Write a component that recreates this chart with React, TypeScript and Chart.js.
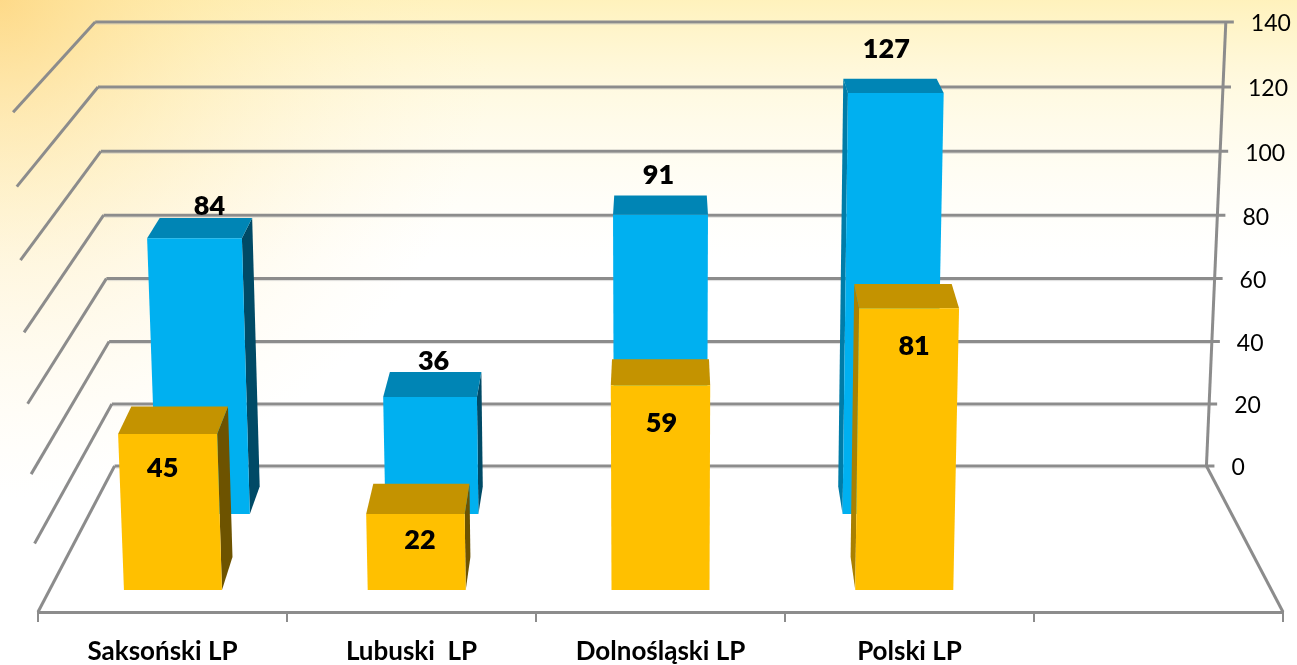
import React, { useEffect, useRef } from "react";
import { Chart, BarController, BarElement, CategoryScale, LinearScale } from "chart.js";

const categories = ["Saksoński LP", "Lubuski  LP", "Dolnośląski LP", "Polski LP", ""];
const rearValues = [84, 36, 91, 127];
const frontValues = [45, 22, 59, 81];
const axisMax = 140;
const axisStep = 20;

const FONT = "Lato, Carlito, sans-serif";
const GRID = "#8c8c8c";

// Hand placement of the value labels, relative to the top front edge of each bar.
const rearLabelOffsets = [[15, -32], [3.5, -36], [-2, -39], [-9.5, -44]];
const frontLabelOffsets = [[-5, 34], [4.5, 26], [1, 38], [5, 38]];

const LEAN = 0.00007; // tops of the bars flare away from the centre of view
const BACK = 0.976; // narrowing of a bar's rear face

class DepthCategoryScale extends CategoryScale {
  static id = "depthCategory";
  static defaults = {};
  getPixelForValue(value: any) {
    const p = super.getPixelForValue(value);
    const c = (this.left + this.right) / 2;
    return c + (p - c) * (this.options as any).depth;
  }
}

class PerspectiveScale extends LinearScale {
  static id = "perspective";
  static defaults = {};
  getPixelForValue(value: any) {
    const o = this.options as any;
    const v = +value;
    return this.bottom - o.floor - (o.rise * v) / (1 - o.curve * v);
  }
}

Chart.register(BarController, BarElement, CategoryScale, LinearScale, DepthCategoryScale, PerspectiveScale);

const paintBackground = (chart: any) => {
  const { ctx, width, height } = chart;
  ctx.save();
  ctx.fillStyle = "#ffffff";
  ctx.fillRect(0, 0, width, height);
  const v = ctx.createLinearGradient(0, 0, 0, 260);
  v.addColorStop(0, "rgba(255,236,160,0.7)");
  v.addColorStop(0.35, "rgba(255,243,190,0.45)");
  v.addColorStop(1, "rgba(255,250,225,0)");
  ctx.fillStyle = v;
  ctx.fillRect(0, 0, width, height);
  const r = ctx.createRadialGradient(0, 0, 0, 0, 0, 500);
  r.addColorStop(0, "rgba(253,210,120,0.75)");
  r.addColorStop(0.4, "rgba(254,228,155,0.45)");
  r.addColorStop(1, "rgba(255,245,210,0)");
  ctx.fillStyle = r;
  ctx.fillRect(0, 0, width, height);
  ctx.restore();
};

const line = (ctx: any, x1: number, y1: number, x2: number, y2: number) => {
  ctx.beginPath();
  ctx.moveTo(x1, y1);
  ctx.lineTo(x2, y2);
  ctx.stroke();
};

const poly = (ctx: any, color: string, pts: number[][]) => {
  ctx.fillStyle = color;
  ctx.beginPath();
  pts.forEach(([x, y], i) => (i ? ctx.lineTo(x, y) : ctx.moveTo(x, y)));
  ctx.closePath();
  ctx.fill();
};

const boxPlugin = {
  id: "box3d",
  beforeDraw: paintBackground,
  beforeDatasetsDraw(chart: any) {
    const { ctx, chartArea, scales } = chart;
    const cx = (chartArea.left + chartArea.right) / 2;
    const half = (chartArea.right - chartArea.left) / 2;
    const wall = scales.yWall;
    const front = scales.yFront;
    const wallEdge = (side: number, y: number) =>
      cx + side * half * 0.877 * (1 + 0.00008 * (wall.getPixelForValue(0) - y));
    const frontEdge = (side: number, y: number) =>
      cx + side * half * (1 + 0.00008 * (front.getPixelForValue(0) - y));
    ctx.save();
    ctx.lineCap = "butt";
    wall.ticks.forEach((t: any) => {
      const y = wall.getPixelForValue(t.value);
      const fy = front.getPixelForValue(t.value);
      ctx.strokeStyle = GRID;
      ctx.lineWidth = 3;
      line(ctx, wallEdge(-1, y), y, frontEdge(-1, fy), fy);
      line(ctx, wallEdge(-1, y), y, wallEdge(1, y) + 8, y);
      ctx.strokeStyle = "rgba(190,190,190,0.5)";
      ctx.lineWidth = 1;
      line(ctx, wallEdge(-1, y) + 1, y + 2, wallEdge(1, y) + 1, y + 2);
    });
    ctx.strokeStyle = GRID;
    ctx.lineWidth = 3;
    const y0 = wall.getPixelForValue(0);
    const yTop = wall.getPixelForValue(axisMax);
    line(ctx, wallEdge(1, y0), y0, wallEdge(1, yTop), yTop);
    const f0 = front.getPixelForValue(0);
    line(ctx, wallEdge(1, y0), y0, frontEdge(1, f0), f0);
    ctx.restore();
  },
  beforeDatasetDraw(chart: any, args: any) {
    const { ctx, chartArea, scales } = chart;
    const ds = chart.data.datasets[args.index];
    const cx = (chartArea.left + chartArea.right) / 2;
    const backScale = scales[ds.backAxis];
    const backBase = backScale.getPixelForValue(0);
    args.meta.data.forEach((el: any, i: number) => {
      const v = ds.data[i];
      const { x, y, base, width } = el;
      const frontPt = (xb: number, py: number) => [cx + (xb - cx) * (1 + LEAN * (base - py)), py];
      const backPt = (xb: number, py: number) => [
        cx + (cx + (xb - cx) * BACK - cx) * (1 + LEAN * (backBase - py)),
        py,
      ];
      const L = x - width / 2;
      const R = x + width / 2;
      const by = backScale.getPixelForValue(v);
      const fl = frontPt(L, y);
      const fr = frontPt(R, y);
      const bl = backPt(L, by);
      const br = backPt(R, by);
      if (br[0] > fr[0] + 1) {
        poly(ctx, ds.sideRight, [fr, br, backPt(R, backBase), frontPt(R, base)]);
      }
      if (bl[0] < fl[0] - 1) {
        poly(ctx, ds.sideLeft, [fl, bl, backPt(L, backBase), frontPt(L, base)]);
      }
      poly(ctx, ds.topColor, [fl, fr, br, bl]);
      poly(ctx, ds.backgroundColor, [fl, fr, frontPt(R, base), frontPt(L, base)]);
    });
    return false;
  },
  afterDraw(chart: any) {
    const { ctx, chartArea, scales } = chart;
    const cx = (chartArea.left + chartArea.right) / 2;
    const half = (chartArea.right - chartArea.left) / 2;
    const wall = scales.yWall;
    ctx.save();
    ctx.fillStyle = "#000";
    ctx.textBaseline = "middle";
    ctx.textAlign = "left";
    ctx.font = `400 23px ${FONT}`;
    wall.ticks.forEach((t: any) => {
      const y = wall.getPixelForValue(t.value);
      const edge = cx + half * 0.877 * (1 + 0.00008 * (wall.getPixelForValue(0) - y));
      ctx.fillText(String(t.label), edge + 25, y + 2);
    });
    ctx.textAlign = "center";
    ctx.font = `800 27px ${FONT}`;
    chart.data.datasets.forEach((ds: any, d: number) => {
      const meta = chart.getDatasetMeta(d);
      meta.data.forEach((el: any, i: number) => {
        const [ox, oy] = ds.labelOffsets[i];
        const topX = cx + (el.x - cx) * (1 + LEAN * (el.base - el.y));
        ctx.fillText(String(ds.data[i]), topX + ox, el.y + oy);
      });
    });
    ctx.restore();
  },
};

const hiddenY = (floor: number, rise: number, curve: number) => ({
  type: "perspective",
  display: false,
  min: 0,
  max: axisMax,
  ticks: { stepSize: axisStep },
  floor,
  rise,
  curve,
});

const hiddenX = (depth: number) => ({
  type: "depthCategory",
  display: false,
  offset: true,
  depth,
});

export default function App() {
  const ref = useRef<HTMLCanvasElement>(null);
  useEffect(() => {
    const chart = new Chart(ref.current as any, {
      type: "bar",
      data: {
        labels: categories,
        datasets: [
          {
            label: "front",
            data: frontValues,
            order: 1,
            grouped: false,
            xAxisID: "xYellow",
            yAxisID: "yYellow",
            barThickness: 98,
            backgroundColor: "#FFC000",
            topColor: "#C49300",
            sideRight: "#6D5300",
            sideLeft: "#A98000",
            backAxis: "yYellowBack",
            labelOffsets: frontLabelOffsets,
          },
          {
            label: "rear",
            data: rearValues,
            order: 2,
            grouped: false,
            xAxisID: "xBlue",
            yAxisID: "yBlue",
            barThickness: 93,
            backgroundColor: "#00B0F0",
            topColor: "#0085B5",
            sideRight: "#004A66",
            sideLeft: "#007CA8",
            backAxis: "yBlueBack",
            labelOffsets: rearLabelOffsets,
          },
        ] as any,
      },
      plugins: [boxPlugin],
      options: {
        responsive: false,
        animation: false,
        events: [],
        layout: { padding: { left: 38, right: 14, top: 22, bottom: 0 } },
        scales: {
          x: {
            type: "category",
            position: "bottom",
            offset: true,
            afterFit: (s: any) => {
              s.height = 53;
            },
            border: { display: true, color: GRID, width: 3 },
            grid: { display: true, offset: true, drawOnChartArea: false, drawTicks: true, tickLength: 10, color: GRID, lineWidth: 2 },
            ticks: {
              autoSkip: false,
              maxRotation: 0,
              padding: 14,
              color: "#000",
              font: { family: FONT, size: 26, weight: "bold" },
            },
          },
          xYellow: hiddenX(0.979),
          xBlue: hiddenX(0.918),
          yWall: hiddenY(146, 3.088, 0.000187),
          yFront: hiddenY(0, 3.4, 0.00034),
          yYellow: hiddenY(22, 3.446, 0.00012),
          yYellowBack: hiddenY(55, 3.31, 0.00022),
          yBlue: hiddenY(98, 3.225, 0.000214),
          yBlueBack: hiddenY(125.5, 3.17, 0.0001),
        } as any,
        plugins: { legend: { display: false }, tooltip: { enabled: false }, title: { display: false } },
      } as any,
    });
    return () => chart.destroy();
  }, []);
  return (
    <div style={{ position: "absolute", left: 0, top: 0, width: 1297, height: 665, overflow: "hidden" }}>
      <canvas ref={ref} width={1297} height={665} style={{ display: "block" }} />
    </div>
  );
}
